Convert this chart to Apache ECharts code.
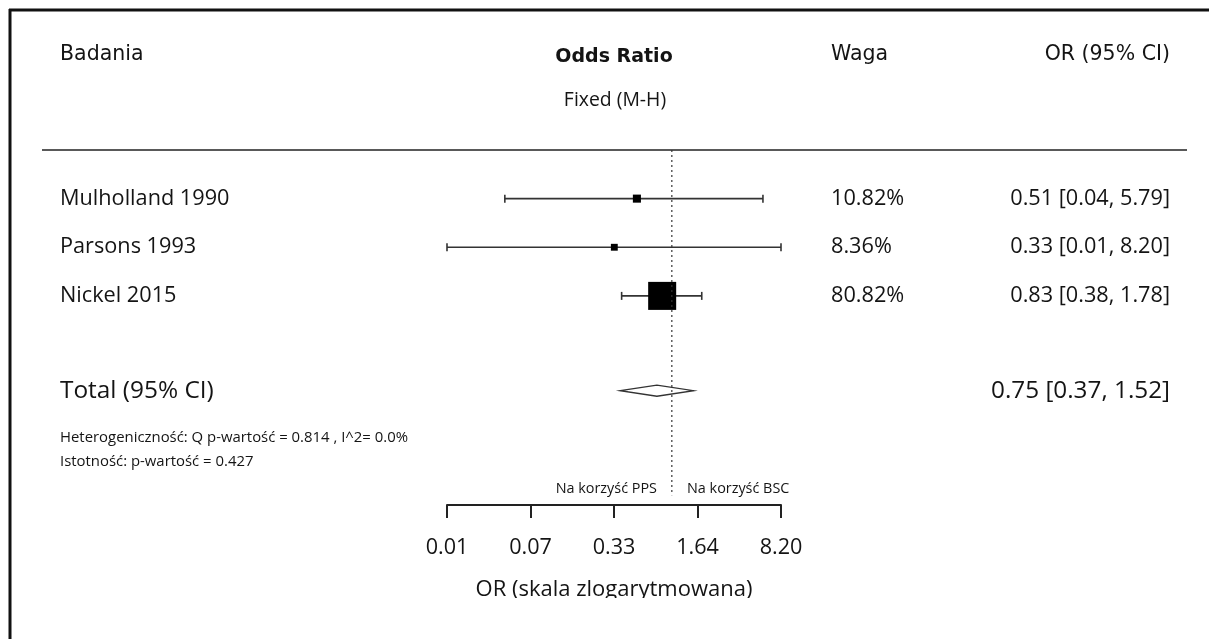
<!DOCTYPE html>
<html>
<head>
<meta charset="utf-8">
<script src="https://cdn.jsdelivr.net/npm/echarts@6/dist/echarts.min.js"></script>
<style>
  html, body { margin: 0; padding: 0; background: #fff; }
  #chart { width: 1209px; height: 639px; }
</style>
</head>
<body>
<div id="chart"></div>
<script>
// Forest plot data
const studies = ['Mulholland 1990', 'Parsons 1993', 'Nickel 2015'];
const orValues = [0.51, 0.33, 0.83];
const ciLower = [0.04, 0.01, 0.38];
const ciUpper = [5.79, 8.20, 1.78];
const weights = [10.82, 8.36, 80.82];
const rowPositions = [1, 2, 3];

const totalLabel = 'Total (95% CI)';
const totalOr = 0.75;
const totalLower = 0.37;
const totalUpper = 1.52;
const totalRow = 4.95;

// Log-scale tick values: 8.20 divided by successive powers of 5
const tickValues = [8.2 / 625, 8.2 / 125, 8.2 / 25, 8.2 / 5, 8.2];

const headers = { study: 'Badania', plot: 'Odds Ratio', model: 'Fixed (M-H)', weight: 'Waga', ci: 'OR (95% CI)' };
const heterogeneity = 'Heterogeniczność: Q p-wartość = 0.814 , I^2= 0.0%';
const significance = 'Istotność: p-wartość = 0.427';
const favourLeft = 'Na korzyść PPS';
const favourRight = 'Na korzyść BSC';
const axisTitle = 'OR (skala zlogarytmowana)';

const lg = v => Math.log10(v);
const fmt = v => v.toFixed(2);

const BODY = '"Open Sans", "Noto Sans", sans-serif';
const HEAD = '"DejaVu Sans", "Noto Sans", sans-serif';
const INK = '#141414';

const xMin = lg(tickValues[0]);
const xMax = lg(tickValues[tickValues.length - 1]);
// confidence limits outside the axis range are cut at the axis ends
const clampX = v => Math.min(xMax, Math.max(xMin, v));

const chart = echarts.init(document.getElementById('chart'));

const studyData = studies.map((s, i) => [lg(orValues[i]), rowPositions[i], lg(ciLower[i]), lg(ciUpper[i]), weights[i]]);

const option = {
  backgroundColor: '#fff',
  animation: false,
  grid: { left: 447, right: 428, top: 150, bottom: 134 },
  xAxis: {
    type: 'value',
    min: xMin,
    max: xMax,
    splitLine: { show: false },
    axisLine: { show: true, onZero: false, lineStyle: { color: '#222', width: 2 } },
    axisTick: { show: true, length: 13, lineStyle: { color: '#222', width: 2 }, customValues: tickValues.map(lg) },
    axisLabel: {
      customValues: tickValues.map(lg),
      formatter: v => fmt(Math.pow(10, v)),
      margin: 32, fontSize: 21.6, color: INK, fontFamily: BODY
    },
    name: axisTitle,
    nameLocation: 'middle',
    nameGap: 74,
    nameTextStyle: { fontSize: 22, color: INK, fontFamily: BODY }
  },
  yAxis: { type: 'value', min: 0, max: 7.3, inverse: true, show: false },
  series: [
    {
      // line of no effect at OR = 1
      type: 'line',
      data: [[lg(1), 0], [lg(1), 7.1]],
      symbol: 'none',
      lineStyle: { color: '#333', width: 1.2, type: [2, 3] },
      silent: true
    },
    {
      type: 'custom',
      data: studyData,
      renderItem: (params, api) => {
        const c = api.coord([api.value(0), api.value(1)]);
        const lo = api.coord([clampX(api.value(2)), api.value(1)]);
        const hi = api.coord([clampX(api.value(3)), api.value(1)]);
        const side = 1.84 * Math.pow(api.value(4), 0.62);
        const st = { stroke: '#333', lineWidth: 1.6 };
        return {
          type: 'group',
          children: [
            { type: 'line', shape: { x1: lo[0], y1: c[1], x2: hi[0], y2: c[1] }, style: st },
            { type: 'line', shape: { x1: lo[0], y1: c[1] - 4, x2: lo[0], y2: c[1] + 4 }, style: st },
            { type: 'line', shape: { x1: hi[0], y1: c[1] - 4, x2: hi[0], y2: c[1] + 4 }, style: st },
            { type: 'rect', shape: { x: c[0] - side / 2, y: c[1] - side / 2, width: side, height: side }, style: { fill: '#000' } }
          ]
        };
      }
    },
    {
      type: 'custom',
      data: [[lg(totalOr), totalRow, lg(totalLower), lg(totalUpper)]],
      renderItem: (params, api) => {
        const c = api.coord([api.value(0), api.value(1)]);
        const lo = api.coord([api.value(2), api.value(1)]);
        const hi = api.coord([api.value(3), api.value(1)]);
        const h = 5.5;
        return {
          type: 'polygon',
          shape: { points: [[lo[0], c[1]], [c[0], c[1] - h], [hi[0], c[1]], [c[0], c[1] + h]] },
          style: { fill: '#fff', stroke: '#333', lineWidth: 1.3 }
        };
      }
    }
  ]
};

chart.setOption(option);

const yPix = r => chart.convertToPixel({ gridIndex: 0 }, [0, r])[1];
const txt = (x, y, text, size, align, font, weight) => ({
  type: 'text', x, y,
  style: { text, fontSize: size, fontFamily: font || BODY, fontWeight: weight || 'normal', fill: INK, align: align || 'left', verticalAlign: 'middle' }
});

const graphics = [
  // frame edges
  { type: 'line', shape: { x1: 9, y1: 10, x2: 1209, y2: 10 }, style: { stroke: '#111', lineWidth: 3 } },
  { type: 'line', shape: { x1: 10, y1: 9, x2: 10, y2: 639 }, style: { stroke: '#111', lineWidth: 3 } },
  // header separator
  { type: 'line', shape: { x1: 42, y1: 150, x2: 1187, y2: 150 }, style: { stroke: '#222', lineWidth: 1.6 } },
  txt(60, 55, headers.study, 20.5, 'left', HEAD),
  txt(614, 57, headers.plot, 19, 'center', HEAD, 'bold'),
  txt(615, 100, headers.model, 19.4, 'center'),
  txt(831, 55, headers.weight, 20.5, 'left', HEAD),
  txt(1170, 55, headers.ci, 20.5, 'right', HEAD),
  txt(60, 438, heterogeneity, 14.9),
  txt(60, 462, significance, 14.9),
  txt(657, 489, favourLeft, 14.4, 'right'),
  txt(687, 489, favourRight, 14.4, 'left')
];

studies.forEach((s, i) => {
  const y = yPix(rowPositions[i]);
  graphics.push(txt(60, y, s, 21.7));
  graphics.push(txt(831, y, weights[i].toFixed(2) + '%', 21.7));
  graphics.push(txt(1170, y, `${fmt(orValues[i])} [${fmt(ciLower[i])}, ${fmt(ciUpper[i])}]`, 21.7, 'right'));
});
const ty = yPix(totalRow);
graphics.push(txt(60, ty, totalLabel, 24.4));
graphics.push(txt(1170, ty, `${fmt(totalOr)} [${fmt(totalLower)}, ${fmt(totalUpper)}]`, 24.3, 'right'));
// page edge cuts off the lower part of the axis title
graphics.push({ type: 'rect', shape: { x: 20, y: 598, width: 1189, height: 41 }, style: { fill: '#fff' }, z: 100 });

chart.setOption({ graphic: graphics });
</script>
</body>
</html>
